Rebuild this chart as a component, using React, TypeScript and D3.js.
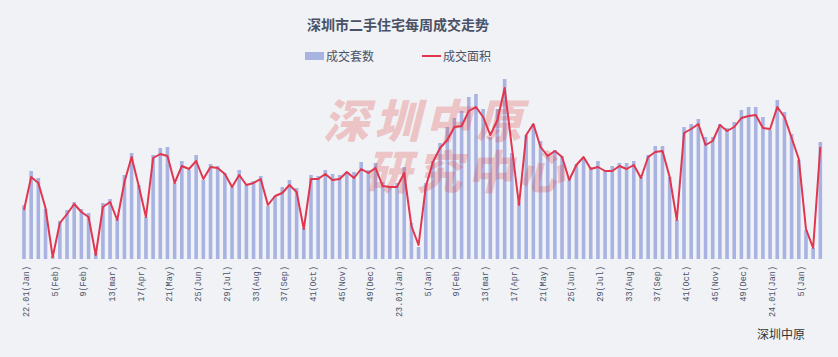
import React from "react";
import * as d3 from "d3";

const W = 838;
const H = 357;

// 成交套数 (weekly transactions, sets) 2022 W1 .. 2024 W8
const units: number[] = [
  540, 880, 810, 500, 30, 380, 490, 570, 500, 460, 60, 560, 600, 400, 840, 1060,
  740, 420, 1040, 1110, 1120, 760, 980, 890, 1040, 790, 950, 930, 860, 720, 890, 740,
  780, 830, 530, 630, 720, 790, 710, 310, 840, 830, 890, 850, 840, 870, 870, 970,
  890, 960, 770, 720, 760, 920, 360, 120, 760, 980, 1160, 1320, 1410, 1480, 1620, 1650,
  1500, 1220, 1500, 1800, 1060, 570, 1240, 1350, 1180, 1050, 1090, 1030, 820, 950, 1010, 920,
  980, 890, 930, 960, 960, 980, 820, 1040, 1130, 1130, 820, 390, 1320, 1350, 1400, 1220,
  1220, 1350, 1310, 1370, 1490, 1520, 1520, 1420, 1290, 1590, 1470, 1250, 990, 290, 110, 1170,
];

// 成交面积 (weekly area, 万㎡)
const area: number[] = [
  4.9, 8.2, 7.6, 5.1, 0.2, 3.6, 4.5, 5.5, 4.7, 4.2, 0.4, 5.2, 5.7, 3.9, 7.7, 10.2,
  7.3, 4.2, 10.1, 10.5, 10.3, 7.6, 9.3, 9.0, 9.8, 8.0, 9.2, 9.1, 8.5, 7.2, 8.4, 7.4,
  7.6, 8.0, 5.4, 6.3, 6.6, 7.4, 6.7, 3.0, 8.0, 8.0, 8.5, 7.9, 8.0, 8.7, 8.1, 9.0,
  8.6, 9.1, 7.3, 7.2, 7.2, 8.6, 3.3, 1.4, 7.2, 9.7, 11.1, 11.9, 13.2, 13.3, 14.8, 15.2,
  14.2, 12.4, 13.9, 17.1, 11.2, 5.4, 12.4, 13.5, 11.2, 10.3, 10.8, 10.2, 7.9, 9.4, 10.2, 9.0,
  9.2, 8.8, 8.8, 9.3, 9.0, 9.4, 8.1, 10.2, 10.7, 10.8, 8.2, 3.9, 12.6, 13.0, 13.5, 11.4,
  11.8, 13.4, 12.8, 13.2, 14.1, 14.3, 14.4, 13.1, 13.0, 15.2, 14.2, 12.1, 10.0, 3.0, 1.1, 11.2,
];

// tick labels, one every 4 weeks
const tickLabels: string[] = [
  "22.01(Jan)", "5(Feb)", "9(Feb)", "13(mar)", "17(Apr)", "21(May)", "25(Jun)",
  "29(Jul)", "33(Aug)", "37(Sep)", "41(Oct)", "45(Nov)", "49(Dec)",
  "23.01(Jan)", "5(Jan)", "9(Feb)", "13(mar)", "17(Apr)", "21(May)", "25(Jun)",
  "29(Jul)", "33(Aug)", "37(Sep)", "41(Oct)", "45(Nov)", "49(Dec)",
  "24.01(Jan)", "5(Jan)",
];

const title = "深圳市二手住宅每周成交走势";
const seriesNames = ["成交套数", "成交面积"];
const watermarkRows = ["深圳中原", "研究中心"];

const BG = "#f0f2f5";
const BAR = "#a8b3e2";
const LINE = "#e0364f";
const TEXT = "#4a5167";

export default function App() {
  const idx = units.map((_, i) => i);
  const x = d3
    .scaleBand<number>()
    .domain(idx)
    .range([20.4, 823.9])
    .paddingInner(0.5)
    .paddingOuter(0.25);
  const cx = (i: number) => (x(i) as number) + x.bandwidth() / 2;
  const yBar = d3.scaleLinear().domain([0, 2000]).range([259, 59]);
  const yLine = d3.scaleLinear().domain([0, 20]).range([259, 59]);
  const linePath = d3
    .line<number>()
    .x((_, i) => cx(i))
    .y((d) => yLine(d))(area) as string;

  return (
    <svg
      width={W}
      height={H}
      style={{ position: "absolute", left: 0, top: 0, background: BG }}
      fontFamily="'Noto Sans CJK SC', sans-serif"
    >
      <rect width={W} height={H} fill={BG} />
      <text x={398} y={30} textAnchor="middle" fontSize={14} fontWeight="bold" fill={TEXT}>
        {title}
      </text>
      {/* legend */}
      <rect x={305} y={52} width={19} height={8} fill={BAR} />
      <text x={326} y={60.5} fontSize={12} fill={TEXT}>{seriesNames[0]}</text>
      <line x1={422} x2={441} y1={56} y2={56} stroke={LINE} strokeWidth={2} />
      <text x={443} y={60.5} fontSize={12} fill={TEXT}>{seriesNames[1]}</text>

      <g>
        {units.map((v, i) => (
          <rect
            key={i}
            x={x(i)}
            y={yBar(v)}
            width={x.bandwidth()}
            height={yBar(0) - yBar(v)}
            fill={BAR}
          />
        ))}
      </g>

      {/* watermark */}
      <text
        fill="rgba(228,60,60,0.27)"
        fontWeight={900}
        fontSize={46}
        fontStyle="italic"
        textAnchor="middle"
        letterSpacing={5}
      >
        <tspan x={425} y={138}>{watermarkRows[0]}</tspan>
        <tspan x={467} y={189}>{watermarkRows[1]}</tspan>
      </text>

      <path d={linePath} fill="none" stroke={LINE} strokeWidth={2} strokeLinejoin="round" />

      <g fontFamily="'Liberation Mono', monospace" fontSize={8.5} fill={TEXT}>
        {tickLabels.map((t, k) => {
          const i = k * 4;
          const px = cx(i) + 2;
          return (
            <text
              key={k}
              transform={`translate(${px},266) rotate(-90)`}
              textAnchor="end"
              dy="0.35em"
            >
              {t}
            </text>
          );
        })}
      </g>

      <text x={805} y={339} textAnchor="end" fontSize={12} fill="#333">深圳中原</text>
    </svg>
  );
}
